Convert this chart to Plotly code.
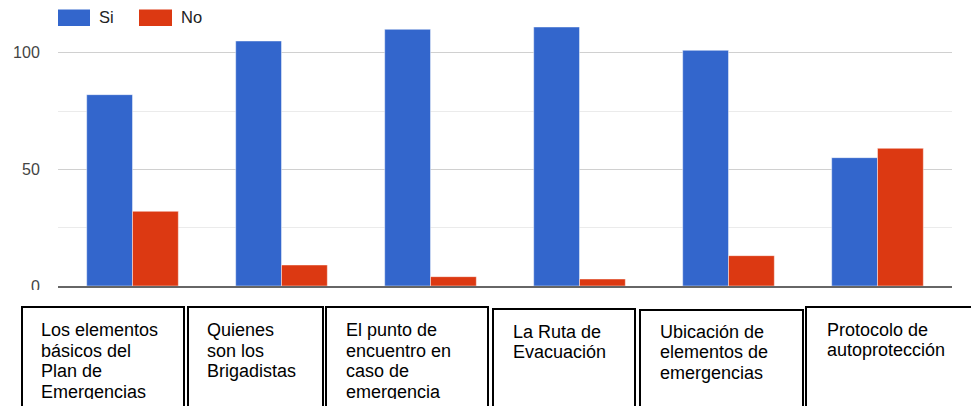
import plotly.graph_objects as go

# ---- data ----
categories = [
    "Los elementos básicos del Plan de Emergencias",
    "Quienes son los Brigadistas",
    "El punto de encuentro en caso de emergencia",
    "La Ruta de Evacuación",
    "Ubicación de elementos de emergencias",
    "Protocolo de autoprotección",
]
label_lines = [
    ["Los elementos", "básicos del", "Plan de", "Emergencias"],
    ["Quienes", "son los", "Brigadistas"],
    ["El punto de", "encuentro en", "caso de", "emergencia"],
    ["La Ruta de", "Evacuación"],
    ["Ubicación de", "elementos de", "emergencias"],
    ["Protocolo de", "autoprotección"],
]
si_values = [82, 105, 110, 111, 101, 55]
no_values = [32, 9, 4, 3, 13, 59]
series_names = ["Si", "No"]
y_tick_values = [0, 50, 100]
y_tick_labels = ["0", "50", "100"]

# ---- layout constants (pixels) ----
W, H = 971, 406
PL, PR, PT, PB = 58, 952, 6, 286
BLUE, RED = "#3366cc", "#dc3912"
FONT = "Liberation Sans, Arial, sans-serif"


def px_x(x):
    return (x - PL) / (PR - PL)


def px_y(y):
    return (PB - y) / (PB - PT)


def white_patch(x0, y0, w, h):
    return dict(text=" ", xref="paper", yref="paper", x=px_x(x0), y=px_y(y0),
                xanchor="left", yanchor="top", showarrow=False, width=w, height=h,
                bgcolor="white", borderpad=0, borderwidth=0,
                font=dict(size=1, color="white"))


fig = go.Figure()
fig.add_trace(go.Bar(x=categories, y=si_values, name=series_names[0],
                     marker=dict(color=BLUE, line=dict(color="rgba(255,255,255,0.45)", width=1))))
fig.add_trace(go.Bar(x=categories, y=no_values, name=series_names[1],
                     marker=dict(color=RED, line=dict(color="rgba(255,255,255,0.45)", width=1))))

shapes = []
annotations = []

# custom legend
legend_items = [(series_names[0], BLUE, 58, 90, 97), (series_names[1], RED, 139, 172, 179)]
for name, col, x0, x1, tx in legend_items:
    shapes.append(dict(type="rect", xref="paper", yref="paper",
                       x0=px_x(x0), x1=px_x(x1), y0=px_y(26), y1=px_y(9.5),
                       fillcolor=col, line=dict(color=col, width=0), layer="above"))
    annotations.append(dict(text=name, xref="paper", yref="paper", x=px_x(tx), y=px_y(17.5),
                            xanchor="left", yanchor="middle", showarrow=False,
                            font=dict(family=FONT, size=16.5, color="#222222")))

# cover lower part of the "0" tick label (as in the reference)
annotations.append(white_patch(0, 289.5, 56, 16))

# label boxes below the chart
boxes = [(22, 184, 307), (188, 323, 307), (326, 488, 307),
         (493, 635, 309), (640, 803, 310), (806, 972, 307)]
text_left = [39, 205, 344, 511, 658, 825]
first_line = [330, 330, 330, 331.5, 331.5, 329.5]
line_step = 20.7
for (x0, x1, top), tl, fl, lines in zip(boxes, text_left, first_line, label_lines):
    shapes.append(dict(type="rect", xref="paper", yref="paper",
                       x0=px_x(x0), x1=px_x(x1), y0=px_y(430), y1=px_y(top),
                       line=dict(color="black", width=2), fillcolor="white", layer="above"))
    for k, ln in enumerate(lines):
        annotations.append(dict(text=ln, xref="paper", yref="paper",
                                x=px_x(tl), y=px_y(fl + k * line_step),
                                xanchor="left", yanchor="middle", showarrow=False,
                                font=dict(family=FONT, size=18, color="black")))
# clipping of the box contents near the bottom edge
for (x0, x1, top) in boxes:
    annotations.append(white_patch(x0 + 2, 398.5, int(x1 - x0 - 4), 12))

fig.update_layout(
    width=W, height=H,
    margin=dict(l=PL, r=W - PR, t=PT, b=H - PB, pad=0),
    paper_bgcolor="white", plot_bgcolor="white",
    barmode="group", bargap=0.385, bargroupgap=0,
    showlegend=False,
    shapes=shapes, annotations=annotations,
    xaxis=dict(showticklabels=False, showgrid=False, showline=True,
               linecolor="#666666", linewidth=1.5, ticks="", zeroline=False),
    yaxis=dict(range=[0, 120], tickvals=y_tick_values, ticktext=y_tick_labels,
               showgrid=True, gridcolor="#d0d0d0", gridwidth=1, zeroline=False,
               ticks="outside", ticklen=14, tickcolor="rgba(0,0,0,0)",
               tickfont=dict(family=FONT, size=16, color="#444444"),
               minor=dict(tickvals=[25, 75], showgrid=True, gridcolor="#ebebeb", gridwidth=1, ticks="")),
)

fig.write_html("out.html", config={"displayModeBar": False},
               post_script="document.body.style.margin='0';document.body.style.overflow='hidden';")
